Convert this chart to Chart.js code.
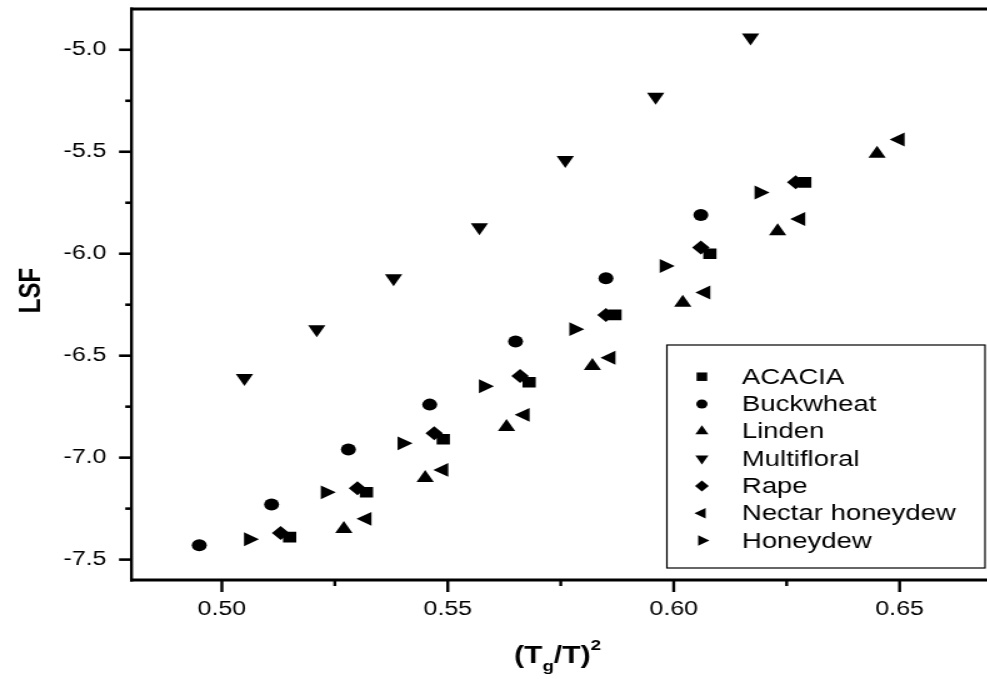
<!DOCTYPE html>
<html>
<head>
<meta charset="utf-8">
<script src="https://cdn.jsdelivr.net/npm/chart.js@4.4.1/dist/chart.umd.min.js"></script>
<style>
  html, body { margin: 0; padding: 0; background: #fff; overflow: hidden; }
  #wrap { width: 987px; height: 679px; overflow: hidden; position: relative; }
  /* the reference is stretched sideways, so the canvas is too */
  #chart { position: absolute; left: 0; top: 0; transform: scaleX(1.25); transform-origin: 0 0; }
</style>
</head>
<body>
<div id="wrap"><canvas id="chart" width="800" height="679"></canvas></div>
<script>
'use strict';

// ---- data ----
var acaciaX      = [0.515, 0.532, 0.549, 0.568, 0.587, 0.608, 0.629];
var acaciaY      = [-7.39, -7.17, -6.91, -6.63, -6.30, -6.00, -5.65];
var buckwheatX   = [0.495, 0.511, 0.528, 0.546, 0.565, 0.585, 0.606];
var buckwheatY   = [-7.43, -7.23, -6.96, -6.74, -6.43, -6.12, -5.81];
var lindenX      = [0.527, 0.545, 0.563, 0.582, 0.602, 0.623, 0.645];
var lindenY      = [-7.35, -7.10, -6.85, -6.55, -6.24, -5.89, -5.51];
var multifloralX = [0.505, 0.521, 0.538, 0.557, 0.576, 0.596, 0.617];
var multifloralY = [-6.61, -6.37, -6.12, -5.87, -5.54, -5.23, -4.94];
var rapeX        = [0.513, 0.530, 0.547, 0.566, 0.585, 0.606, 0.627];
var rapeY        = [-7.37, -7.15, -6.88, -6.60, -6.30, -5.97, -5.65];
var nectarX      = [0.532, 0.549, 0.567, 0.586, 0.607, 0.628, 0.650];
var nectarY      = [-7.30, -7.06, -6.79, -6.51, -6.19, -5.83, -5.44];
var honeydewX    = [0.506, 0.523, 0.540, 0.558, 0.578, 0.598, 0.619];
var honeydewY    = [-7.40, -7.17, -6.93, -6.65, -6.37, -6.06, -5.70];

var seriesNames  = ['ACACIA', 'Buckwheat', 'Linden', 'Multifloral', 'Rape', 'Nectar honeydew', 'Honeydew'];

var xTicks      = [0.50, 0.55, 0.60, 0.65];
var xMinorTicks = [0.525, 0.575, 0.625];
var yTicks      = [-7.5, -7.0, -6.5, -6.0, -5.5, -5.0];
var yMinorTicks = [-7.25, -6.75, -6.25, -5.75, -5.25];

// ---- marker looks ----
var markers = [
  { style: 'rect',     rot: 0,   r: 7.5, lr: 6   },
  { style: 'circle',   rot: 0,   r: 6,   lr: 4.5 },
  { style: 'triangle', rot: 0,   r: 8,   lr: 6   },
  { style: 'triangle', rot: 180, r: 8,   lr: 6   },
  { style: 'rectRot',  rot: 0,   r: 7,   lr: 5.5 },
  { style: 'triangle', rot: 270, r: 8,   lr: 6   },
  { style: 'triangle', rot: 90,  r: 8,   lr: 6   }
];

var FONT = "'Liberation Sans', Arial, sans-serif";

function pts(xs, ys) {
  return xs.map(function (x, i) { return { x: x, y: ys[i] }; });
}

function dataset(i, xs, ys) {
  var m = markers[i];
  return {
    label: seriesNames[i],
    data: pts(xs, ys),
    pointStyle: m.style,
    pointRotation: m.rot,
    pointRadius: m.r,
    pointHoverRadius: m.r,
    pointBackgroundColor: '#000',
    pointBorderColor: '#000',
    pointBorderWidth: 0,
    showLine: false
  };
}

function line(ctx, x1, y1, x2, y2) {
  ctx.beginPath();
  ctx.moveTo(x1, y1);
  ctx.lineTo(x2, y2);
  ctx.stroke();
}

function drawMark(ctx, m, r, x, y) {
  var rad = m.rot * Math.PI / 180;
  ctx.beginPath();
  if (m.style === 'circle') {
    ctx.arc(x, y, r, 0, Math.PI * 2);
  } else if (m.style === 'rect') {
    var s = r * Math.SQRT1_2;
    ctx.rect(x - s, y - s, 2 * s, 2 * s);
  } else if (m.style === 'rectRot') {
    ctx.moveTo(x - r, y); ctx.lineTo(x, y - r); ctx.lineTo(x + r, y); ctx.lineTo(x, y + r);
  } else {
    for (var k = 0; k < 3; k++) {
      var a = rad + k * 2 * Math.PI / 3;
      var px = x + Math.sin(a) * r, py = y - Math.cos(a) * r;
      if (k === 0) ctx.moveTo(px, py); else ctx.lineTo(px, py);
    }
  }
  ctx.closePath();
  ctx.fill();
}

// frame, tick marks, axis titles and the boxed legend
var decorations = {
  id: 'decorations',
  afterDraw: function (chart) {
    var ctx = chart.ctx, a = chart.chartArea;
    var xs = chart.scales.x, ys = chart.scales.y;
    ctx.save();
    ctx.strokeStyle = '#000';
    ctx.fillStyle = '#000';

    // box (right side falls outside the picture)
    ctx.lineWidth = 3;
    line(ctx, a.left - 1, a.top, a.right + 10, a.top);
    line(ctx, a.left - 1, a.bottom, a.right + 10, a.bottom);
    ctx.lineWidth = 2.4;
    line(ctx, a.left, a.top - 1.5, a.left, a.bottom + 1.5);

    // tick marks, pointing out
    ctx.lineWidth = 2.4;
    xTicks.forEach(function (v) { var p = xs.getPixelForValue(v); line(ctx, p, a.bottom, p, a.bottom + 12); });
    xMinorTicks.forEach(function (v) { var p = xs.getPixelForValue(v); line(ctx, p, a.bottom, p, a.bottom + 6); });
    ctx.lineWidth = 2.6;
    yTicks.forEach(function (v) { var p = ys.getPixelForValue(v); line(ctx, a.left, p, a.left - 10, p); });
    yMinorTicks.forEach(function (v) { var p = ys.getPixelForValue(v); line(ctx, a.left, p, a.left - 5, p); });

    // y title
    ctx.save();
    ctx.translate(25, (a.top + a.bottom) / 2 - 4);
    ctx.rotate(-Math.PI / 2);
    ctx.font = 'bold 24px ' + FONT;
    ctx.textAlign = 'center';
    ctx.textBaseline = 'middle';
    ctx.fillText('LSF', 0, 0);
    ctx.restore();

    // x title: (T_g/T)^2
    var big = 'bold 24px ' + FONT, small = 'bold 15px ' + FONT;
    var parts = [['(T', big, 0], ['g', small, 8], ['/T)', big, 0], ['2', small, -13]];
    var total = 0;
    parts.forEach(function (p) { ctx.font = p[1]; total += ctx.measureText(p[0]).width; });
    var x = 446 - total / 2, base = 663;
    ctx.textAlign = 'left';
    ctx.textBaseline = 'alphabetic';
    parts.forEach(function (p) {
      ctx.font = p[1];
      ctx.fillText(p[0], x, base + p[2]);
      x += ctx.measureText(p[0]).width;
    });

    // legend box
    var lx = 533.5, ly = 345, lw = 254.5, lh = 223;
    ctx.lineWidth = 1.2;
    ctx.strokeRect(lx, ly, lw, lh);
    ctx.font = '22px ' + FONT;
    ctx.textBaseline = 'middle';
    seriesNames.forEach(function (name, i) {
      var rowY = 376.7 + i * 27.3;
      drawMark(ctx, markers[i], markers[i].lr, 561.5, rowY);
      ctx.fillText(name, 593.5, rowY + 1);
    });
    ctx.restore();
  }
};

function noPad(s) {
  s.paddingTop = 0; s.paddingBottom = 0; s.paddingLeft = 0; s.paddingRight = 0;
}

new Chart(document.getElementById('chart'), {
  type: 'scatter',
  data: {
    datasets: [
      dataset(0, acaciaX, acaciaY),
      dataset(1, buckwheatX, buckwheatY),
      dataset(2, lindenX, lindenY),
      dataset(3, multifloralX, multifloralY),
      dataset(4, rapeX, rapeY),
      dataset(5, nectarX, nectarY),
      dataset(6, honeydewX, honeydewY)
    ]
  },
  options: {
    responsive: false,
    animation: false,
    layout: { padding: { left: 0, right: 2, top: 9, bottom: 0 } },
    plugins: { legend: { display: false }, tooltip: { enabled: false } },
    scales: {
      x: {
        type: 'linear',
        min: 0.48, max: 0.67,
        grid: { display: false, drawTicks: false },
        border: { display: false },
        afterBuildTicks: function (s) { s.ticks = xTicks.map(function (v) { return { value: v }; }); },
        afterFit: function (s) { s.height = 99; noPad(s); },
        ticks: {
          autoSkip: false, maxRotation: 0, padding: 17, color: '#000',
          font: { family: FONT, size: 20 },
          callback: function (v) { return Number(v).toFixed(2); }
        }
      },
      y: {
        type: 'linear',
        min: -7.6, max: -4.8,
        grid: { display: false, drawTicks: false },
        border: { display: false },
        afterBuildTicks: function (s) { s.ticks = yTicks.map(function (v) { return { value: v }; }); },
        afterFit: function (s) { s.width = 105.2; noPad(s); },
        ticks: {
          autoSkip: false, padding: 20, color: '#000',
          font: { family: FONT, size: 20 },
          callback: function (v) { return Number(v).toFixed(1); }
        }
      }
    }
  },
  plugins: [decorations]
});
</script>
</body>
</html>
